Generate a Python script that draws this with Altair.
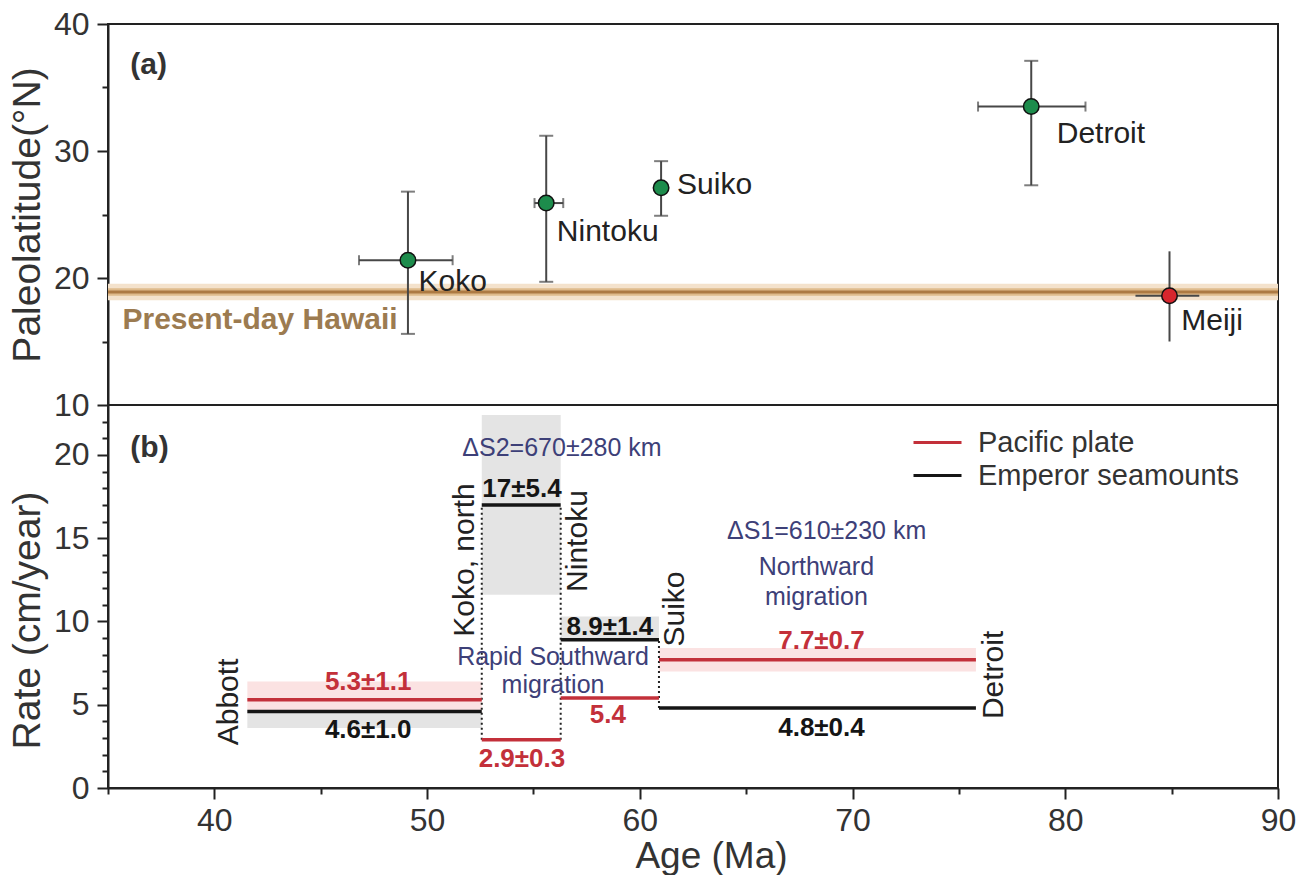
import altair as alt
import pandas as pd

FONT = "Liberation Sans"

# ---------------- panel (a): paleolatitude ----------------
sites = ["Koko", "Nintoku", "Suiko", "Detroit", "Meiji"]
site_age = [49.1, 55.6, 61.0, 78.4, 84.9]
site_age_lo = [46.8, 55.05, 61.0, 75.9, 83.3]
site_age_hi = [51.2, 56.4, 61.0, 80.95, 86.3]
site_lat = [21.4, 25.9, 27.1, 33.5, 18.6]
site_lat_lo = [15.6, 19.7, 24.9, 27.3, 15.0]
site_lat_hi = [26.8, 31.2, 29.2, 37.1, 22.1]
site_group = ["Emperor", "Emperor", "Emperor", "Emperor", "Hawaiian"]
site_caps = [True, True, True, True, False]
site_label_age = [49.6, 56.1, 61.75, 79.6, 85.45]
site_label_lat = [19.7, 23.6, 27.3, 31.3, 16.6]

hawaii_lat = 18.9
hawaii_outer = [18.25, 19.55]
hawaii_inner = [18.6, 19.2]

# ---------------- panel (b): rates ----------------
boundary_names = ["Abbott", "Koko, north", "Nintoku", "Suiko", "Detroit"]
boundary_age = [41.55, 52.57, 56.28, 60.9, 75.8]
boundary_label_age = [40.70, 51.78, 57.09, 61.64, 76.67]
boundary_label_rate = [5.17, 13.69, 14.83, 10.75, 6.79]

pacific_rate = [5.3, 2.9, 5.4, 7.7]
emperor_rate = [4.6, 17.0, 8.9, 4.8]
pacific_text = ["5.3±1.1", "2.9±0.3", "5.4", "7.7±0.7"]
emperor_text = ["4.6±1.0", "17±5.4", "8.9±1.4", "4.8±0.4"]
pacific_text_age = [47.23, 54.46, 58.5, 68.54]
pacific_text_rate = [6.37, 1.74, 4.38, 8.83]
emperor_text_age = [47.23, 54.46, 58.59, 68.54]
emperor_text_rate = [3.48, 17.96, 9.67, 3.6]

# visible uncertainty bands (start age, end age, low, high)
gray_x0 = [41.55, 52.57, 56.28]
gray_x1 = [52.57, 56.28, 60.9]
gray_lo = [3.6, 11.6, 8.9]
gray_hi = [4.6, 22.4, 10.3]
pink_x0 = [41.55, 60.9]
pink_x1 = [52.57, 75.8]
pink_lo = [4.6, 7.0]
pink_hi = [6.4, 8.4]

dotted_age = [52.57, 56.28, 60.9]
dotted_lo = [2.9, 2.9, 4.8]
dotted_hi = [17.0, 17.0, 8.9]

note_text = ["ΔS2=670±280 km", "ΔS1=610±230 km", "Northward", "migration",
             "Rapid Southward", "migration"]
note_age = [56.34, 68.78, 68.3, 68.3, 55.92, 55.92]
note_rate = [20.42, 15.44, 13.27, 11.47, 7.87, 6.19]

# ---------------- colours ----------------
RED = "#c3303a"
BLACK = "#151515"
NAVY = "#3d4078"
GREEN = "#1d8c4c"
MEIJI = "#d7262d"
BAR = "#474747"

# ---------------- tables ----------------
sites_df = pd.DataFrame({
    "site": sites, "age": site_age, "age_lo": site_age_lo, "age_hi": site_age_hi,
    "lat": site_lat, "lat_lo": site_lat_lo, "lat_hi": site_lat_hi,
    "group": site_group, "caps": site_caps,
    "lab_age": site_label_age, "lab_lat": site_label_lat,
})
vcaps = []
hcaps = []
for i in range(len(sites)):
    if site_caps[i]:
        vcaps += [{"age": site_age[i], "lat": site_lat_lo[i]},
                  {"age": site_age[i], "lat": site_lat_hi[i]}]
        if site_age_hi[i] > site_age_lo[i]:
            hcaps += [{"age": site_age_lo[i], "lat": site_lat[i]},
                      {"age": site_age_hi[i], "lat": site_lat[i]}]
vcaps_df = pd.DataFrame(vcaps)
hcaps_df = pd.DataFrame(hcaps)
hbar_df = sites_df[sites_df["age_hi"] > sites_df["age_lo"]]

hawaii_df = pd.DataFrame({"x0": [35], "x1": [90], "lat": [hawaii_lat],
                          "olo": [hawaii_outer[0]], "ohi": [hawaii_outer[1]],
                          "ilo": [hawaii_inner[0]], "ihi": [hawaii_inner[1]]})

seg_rows = []
for i in range(4):
    seg_rows.append({"x0": boundary_age[i], "x1": boundary_age[i + 1],
                     "rate": pacific_rate[i], "series": "Pacific plate"})
for i in range(4):
    seg_rows.append({"x0": boundary_age[i], "x1": boundary_age[i + 1],
                     "rate": emperor_rate[i], "series": "Emperor seamounts"})
seg_df = pd.DataFrame(seg_rows)

gray_df = pd.DataFrame({"x0": gray_x0, "x1": gray_x1, "lo": gray_lo, "hi": gray_hi})
pink_df = pd.DataFrame({"x0": pink_x0, "x1": pink_x1, "lo": pink_lo, "hi": pink_hi})
dot_df = pd.DataFrame({"x": dotted_age, "lo": dotted_lo, "hi": dotted_hi})
bname_df = pd.DataFrame({"t": boundary_names, "x": boundary_label_age, "y": boundary_label_rate})
ptext_df = pd.DataFrame({"t": pacific_text, "x": pacific_text_age, "y": pacific_text_rate})
etext_df = pd.DataFrame({"t": emperor_text, "x": emperor_text_age, "y": emperor_text_rate})
note_df = pd.DataFrame({"t": note_text, "x": note_age, "y": note_rate})

# ---------------- scales / axes ----------------
xs = alt.Scale(domain=[35, 90], nice=False, zero=False)
ys_a = alt.Scale(domain=[10, 40], nice=False, zero=False)
ys_b = alt.Scale(domain=[0, 23], nice=False, zero=False)


def cond(every, major, minor):
    return {"condition": {"test": f"datum.value % {every} === 0", "value": major}, "value": minor}


common_axis = dict(grid=False, labelFont=FONT, titleFont=FONT, labelFontSize=32,
                   titleFontWeight="normal", labelColor="#333",
                   titleColor="#333", domainColor="#222", domainWidth=2,
                   tickColor="#222", tickWidth=2, labelOverlap=False)

y_axis_a = alt.Axis(values=list(range(10, 41, 5)), title="Paleolatitude(°N)",
                    labelExpr="datum.value % 10 === 0 ? datum.label : ''",
                    tickSize=cond(10, 11, 6), labelPadding=8, titleFontSize=39,
                    minExtent=56, maxExtent=56, titlePadding=5, **common_axis)
y_axis_b = alt.Axis(values=list(range(0, 23)), title="Rate (cm/year)",
                    labelExpr="datum.value % 5 === 0 ? datum.label : ''",
                    tickSize=cond(5, 11, 6), labelPadding=8, titleFontSize=39,
                    minExtent=56, maxExtent=56, titlePadding=5, titleY=215,
                    **common_axis)
x_axis_b = alt.Axis(values=list(range(35, 91, 5)), title="Age (Ma)",
                    labelExpr="datum.value % 10 === 0 ? datum.label : ''",
                    tickSize=cond(10, 11, 6), labelPadding=6, labelFlush=False,
                    titleFontSize=37, titleX=603, titlePadding=2, **common_axis)


def XA(f):
    return alt.X(f, type="quantitative", scale=xs, axis=None)


def YA(f):
    return alt.Y(f, type="quantitative", scale=ys_a, axis=y_axis_a)


def XB(f):
    return alt.X(f, type="quantitative", scale=xs, axis=x_axis_b)


def YB(f):
    return alt.Y(f, type="quantitative", scale=ys_b, axis=y_axis_b)


# ---------------- panel (a) layers ----------------
h_outer = alt.Chart(hawaii_df).mark_rect(color="#f4e2cc").encode(
    x=XA("x0"), x2="x1", y=YA("olo"), y2="ohi")
h_inner = alt.Chart(hawaii_df).mark_rect(color="#dfbb8c").encode(
    x=XA("x0"), x2="x1", y=YA("ilo"), y2="ihi")
h_line = alt.Chart(hawaii_df).mark_rule(color="#ad7a43", strokeWidth=3).encode(
    x=XA("x0"), x2="x1", y=YA("lat"))
h_text = alt.Chart(pd.DataFrame({"t": ["Present-day Hawaii"], "x": [35.68], "y": [16.7]})).mark_text(
    align="left", baseline="middle", font=FONT, fontSize=30, fontWeight="bold",
    color="#9c7b50").encode(x=XA("x"), y=YA("y"), text="t")

vbar = alt.Chart(sites_df).mark_rule(color=BAR, strokeWidth=2).encode(
    x=XA("age"), y=YA("lat_lo"), y2="lat_hi")
hbar = alt.Chart(hbar_df).mark_rule(color=BAR, strokeWidth=2).encode(
    x=XA("age_lo"), x2="age_hi", y=YA("lat"))
vcap = alt.Chart(vcaps_df).mark_tick(color=BAR, orient="horizontal", size=14, thickness=2).encode(
    x=XA("age"), y=YA("lat"))
hcap = alt.Chart(hcaps_df).mark_tick(color=BAR, orient="vertical", size=10, thickness=2).encode(
    x=XA("age"), y=YA("lat"))
pts = alt.Chart(sites_df).mark_point(filled=True, shape="circle", size=240, stroke="#111",
                                     strokeWidth=1.5, opacity=1).encode(
    x=XA("age"), y=YA("lat"),
    fill=alt.Fill("group:N", scale=alt.Scale(domain=["Emperor", "Hawaiian"], range=[GREEN, MEIJI]),
                  legend=None))
site_labels = alt.Chart(sites_df).mark_text(align="left", baseline="middle", font=FONT,
                                            fontSize=30, color="#222").encode(
    x=XA("lab_age"), y=YA("lab_lat"), text="site")
tag_a = alt.Chart(pd.DataFrame({"t": ["(a)"], "x": [36.05], "y": [36.8]})).mark_text(
    align="left", baseline="middle", font=FONT, fontSize=30, fontWeight="bold", color="#333").encode(
    x=XA("x"), y=YA("y"), text="t")

top = alt.layer(h_outer, h_inner, h_line, h_text, vbar, hbar, vcap, hcap, pts,
                site_labels, tag_a).properties(width=1170, height=381)

# ---------------- panel (b) layers ----------------
gray = alt.Chart(gray_df).mark_rect(color="#e4e4e4").encode(
    x=XB("x0"), x2="x1", y=YB("lo"), y2="hi")
pink = alt.Chart(pink_df).mark_rect(color="#fbe2e2").encode(
    x=XB("x0"), x2="x1", y=YB("lo"), y2="hi")
dots = alt.Chart(dot_df).mark_rule(color="#222", strokeWidth=2, strokeDash=[2, 3]).encode(
    x=XB("x"), y=YB("lo"), y2="hi")
segs = alt.Chart(seg_df).mark_rule(strokeWidth=3.5).encode(
    x=XB("x0"), x2="x1", y=YB("rate"),
    color=alt.Color("series:N",
                    scale=alt.Scale(domain=["Pacific plate", "Emperor seamounts"], range=[RED, BLACK]),
                    legend=alt.Legend(orient="none", legendX=804, legendY=404, title=None,
                                      symbolType="stroke", symbolSize=2304, symbolStrokeWidth=3,
                                      labelFont=FONT, labelFontSize=29, labelColor="#333",
                                      labelLimit=0, clipHeight=29, rowPadding=3,
                                      labelOffset=15, padding=0)))
bnames = alt.Chart(bname_df).mark_text(angle=270, align="center", baseline="middle", font=FONT,
                                        fontSize=30, color="#222").encode(
    x=XB("x"), y=YB("y"), text="t")
ptext = alt.Chart(ptext_df).mark_text(align="center", baseline="middle", font=FONT, fontSize=26,
                                      fontWeight="bold", color=RED).encode(
    x=XB("x"), y=YB("y"), text="t")
etext = alt.Chart(etext_df).mark_text(align="center", baseline="middle", font=FONT, fontSize=26,
                                      fontWeight="bold", color=BLACK).encode(
    x=XB("x"), y=YB("y"), text="t")
notes = alt.Chart(note_df).mark_text(align="center", baseline="middle", font=FONT, fontSize=25,
                                     color=NAVY).encode(
    x=XB("x"), y=YB("y"), text="t")
tag_b = alt.Chart(pd.DataFrame({"t": ["(b)"], "x": [36.05], "y": [20.4]})).mark_text(
    align="left", baseline="middle", font=FONT, fontSize=30, fontWeight="bold", color="#333").encode(
    x=XB("x"), y=YB("y"), text="t")

bottom = alt.layer(gray, pink, dots, segs, bnames, ptext, etext, notes, tag_b).properties(
    width=1170, height=383)

chart = alt.vconcat(top, bottom, spacing=0, bounds="flush").properties(
    padding={"left": 7, "top": 7, "right": 0, "bottom": 0},
    background="white",
).configure_view(stroke="#222", strokeWidth=2)

chart.save("out.html", embed_options={"renderer": "svg", "actions": False})
